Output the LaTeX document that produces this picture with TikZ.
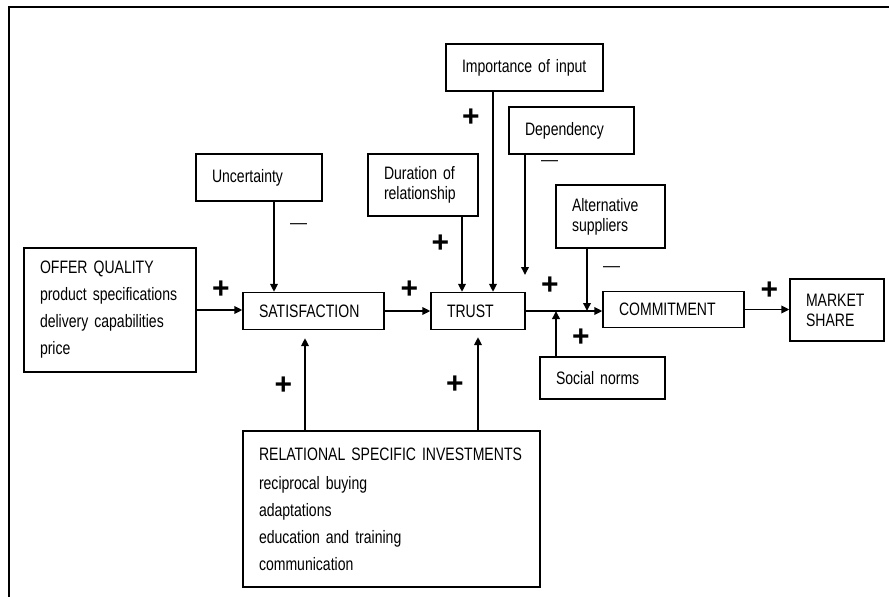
\documentclass[tikz,border=0pt]{standalone}
\usepackage{fontspec}
\setmainfont{Liberation Sans}[FakeStretch=0.78, WordSpace=0.8]
\newfontfamily\signfont{Liberation Sans}
\usepackage{tikz}
\usetikzlibrary{arrows.meta}

\tikzset{
  box/.style={draw, rectangle, line width=1.3pt, inner xsep=16pt, inner ysep=2pt,
    align=left, font={\fontsize{18}{20}\selectfont}},
  link/.style={line width=1.8pt, -{Triangle[length=8pt,width=7.5pt]}},
  plus/.style={font={\signfont\bfseries\fontsize{30}{30}\selectfont}, inner sep=0pt},
  minus/.style={font={\signfont\fontsize{17}{17}\selectfont}, inner sep=0pt},
}

\begin{document}
\begin{tikzpicture}[x=1pt, y=-1pt]
\useasboundingbox (0,0) rectangle (889,597);
% Frame
\draw[line width=1.3pt] (889,7) -- (9,7) -- (9,597);
% Define the boxes
\node[box, text width=94pt, minimum height=47pt] (unc) at (259,177.5) {Uncertainty};
\node[box, text width=78pt, minimum height=62pt] (dur) at (423,185) {Duration of\\relationship};
\node[box, text width=125pt, minimum height=47pt] (imp) at (524.5,67.5) {Importance of input};
\node[box, text width=93pt, minimum height=47pt] (dep) at (571.5,130.5) {Dependency};
\node[box, text width=77pt, minimum height=63pt] (alt) at (610.5,216.5) {Alternative\\suppliers};
\node[box, text width=140pt, minimum height=124pt] (offer) at (110,310)
  {OFFER QUALITY\\[7pt]product specifications\\[7pt]delivery capabilities\\[7pt]price};
\node[box, text width=109pt, minimum height=37pt] (sat) at (313.5,311) {SATISFACTION};
\node[box, text width=62pt, minimum height=37pt] (trust) at (478,311) {TRUST};
\node[box, text width=109pt, minimum height=36pt] (commit) at (673.5,309.5) {COMMITMENT};
\node[box, text width=62pt, minimum height=62pt] (market) at (837,310) {MARKET\\SHARE};
\node[box, text width=93pt, minimum height=42pt] (social) at (602.5,378) {Social norms};
\node[box, text width=265pt, minimum height=156pt] (rel) at (391.5,509)
  {RELATIONAL SPECIFIC INVESTMENTS\\[9pt]reciprocal buying\\[7pt]adaptations\\[7pt]education and training\\[7pt]communication};
\coordinate (depend) at (525,275);
% Add the main chain
\draw[link] (offer.east) -- (offer.east -| sat.west);
\draw[link] (sat.east) -- (trust.west);
\draw[link] (trust.east) -- (trust.east -| commit.west);
\draw[link] (commit.east) -- (commit.east -| market.west);
% Add the influences
\draw[link] ([xshift=15pt]unc.south) -- ([xshift=15pt]unc.south |- sat.north);
\draw[link] ([xshift=39pt]dur.south) -- ([xshift=39pt]dur.south |- trust.north);
\draw[link] ([xshift=-31.5pt]imp.south) -- ([xshift=-31.5pt]imp.south |- trust.north);
\draw[link] ([xshift=-46.5pt]dep.south) -- (depend);
\draw[link] ([xshift=-23.5pt]alt.south) -- ([xshift=-23.5pt]alt.south |- trust.east);
\draw[link] ([xshift=-46.5pt]social.north) -- ([xshift=-46.5pt]social.north |- trust.east);
\draw[link, shorten >=8pt] ([xshift=-86.5pt]rel.north) -- ([xshift=-86.5pt]rel.north |- sat.south);
\draw[link, shorten >=7pt] ([xshift=86.5pt]rel.north) -- ([xshift=86.5pt]rel.north |- trust.south);
% Signs
\foreach \n/\x/\y in {pa/221/290, pb/409.5/290, pc/440.5/244, pd/471/118, pe/550/286,
    pf/581/338, pg/769.5/291, ph/283.5/386, pk/455/385}
  \node[plus] (\n) at (\x,\y) {+};
\foreach \n/\x/\y in {ma/298.5/226, mb/549.5/163, mc/611.5/269}
  \node[minus] (\n) at (\x,\y) {—};
\end{tikzpicture}
\end{document}
